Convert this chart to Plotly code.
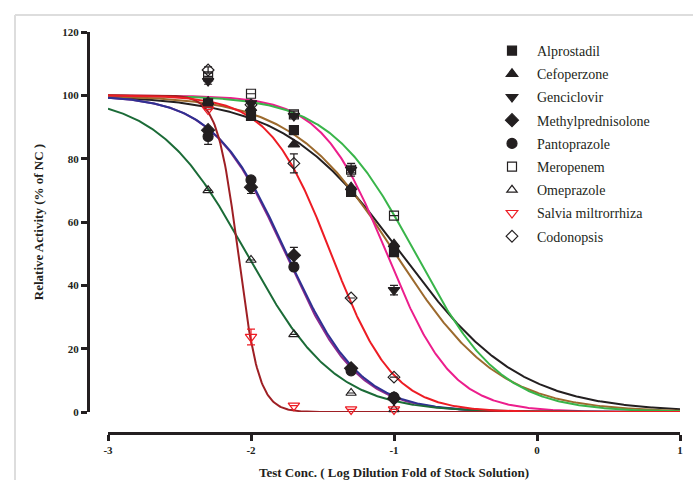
import numpy as np
import plotly.graph_objects as go

# ---------------- data ----------------
log_conc = [-2.3, -2.0, -1.7, -1.3, -1.0]

names = ["Alprostadil", "Cefoperzone", "Genciclovir", "Methylprednisolone",
         "Pantoprazole", "Meropenem", "Omeprazole", "Salvia miltrorrhiza", "Codonopsis"]

alprostadil = [97.5, 93.5, 89.0, 69.5, 50.5]
cefoperzone = [98.0, 96.0, 84.5, 71.0, 53.0]
genciclovir = [104.5, 97.5, 93.5, 76.5, 38.5]
methylpred = [89.0, 71.0, 49.5, 13.8, 4.3]
pantoprazole = [87.0, 73.3, 45.8, 13.0, 4.7]
meropenem = [106.0, 100.5, 94.0, 76.5, 62.0]
omeprazole = [70.0, 48.0, 24.5, 6.0, 0.8]
salvia = [95.5, 23.7, 2.0, 0.8, 0.8]
codonopsis = [108.0, 97.0, 78.5, 36.0, 11.0]

# error bars (SEM)
err_alprostadil = [0, 1.0, 1.0, 1.0, 1.0]
err_cefoperzone = [0, 0, 0, 0, 0]
err_genciclovir = [1.0, 0, 0, 1.0, 1.5]
err_methylpred = [0, 2.0, 2.5, 0, 0]
err_pantoprazole = [2.5, 0, 0, 0, 0]
err_meropenem = [0, 0, 1.0, 2.0, 0]
err_omeprazole = [0, 0, 0, 0, 0]
err_salvia = [0, 2.5, 0, 0, 0]
err_codonopsis = [1.0, 0, 3.0, 0, 0]

# fitted curve parameters (logIC50, Hill slope)
log_ic50 = [-0.95, -0.99, -1.05, -1.75, -1.76, -0.85, -2.03, -2.09, -1.44]
hill = [1.05, 1.2, 1.9, 1.7, 1.72, 1.45, 1.4, 6.0, 2.0]
top_val = 100.0
bottom_val = 0.0

line_colors = ["#231f20", "#9c6a2e", "#ec1e8c", "#2e3192", "#8e2a8e",
               "#39b54a", "#1b6b37", "#9e1f24", "#ed1c24"]
symbols = ["square", "triangle-up", "triangle-down", "diamond", "circle",
           "square-open", "triangle-up-open", "triangle-down-open", "diamond-open"]
marker_colors = ["#231f20"] * 7 + ["#ed1c24", "#231f20"]
marker_sizes = [9, 10, 10, 10, 10, 9, 9, 10, 9]

values = [alprostadil, cefoperzone, genciclovir, methylpred, pantoprazole,
          meropenem, omeprazole, salvia, codonopsis]
errors = [err_alprostadil, err_cefoperzone, err_genciclovir, err_methylpred,
          err_pantoprazole, err_meropenem, err_omeprazole, err_salvia, err_codonopsis]

# ---------------- figure ----------------
W, H = 693, 480
ML, MR, MT, MB = 88, 13, 32, 47
PW, PH = W - ML - MR, H - MT - MB

fig = go.Figure()

xs = np.linspace(-3, 1, 500)
line_order = [0, 1, 2, 4, 3, 5, 6, 7, 8]
for i in line_order:
    ys = bottom_val + (top_val - bottom_val) / (1 + 10 ** ((xs - log_ic50[i]) * hill[i]))
    fig.add_trace(go.Scatter(x=xs, y=ys, mode="lines",
                             line=dict(color=line_colors[i], width=2),
                             showlegend=False, hoverinfo="skip", cliponaxis=False))

for i, n in enumerate(names):
    fig.add_trace(go.Scatter(
        x=log_conc, y=values[i], mode="markers", name=n,
        legendgroup=n,
        marker=dict(symbol=symbols[i], size=marker_sizes[i], color=marker_colors[i],
                    line=dict(color=marker_colors[i], width=1.2)),
        error_y=dict(type="data", array=errors[i], visible=True,
                     color=marker_colors[i], thickness=1.2, width=4),
        cliponaxis=False))

fig.update_layout(
    width=W, height=H,
    margin=dict(l=ML, r=MR, t=MT, b=MB, autoexpand=False),
    paper_bgcolor="white", plot_bgcolor="white",
    xaxis=dict(domain=[20 / PW, 1], range=[-3, 1], anchor="free", position=0,
               automargin=False,
               tickvals=[-3, -2, -1, 0, 1], ticktext=["-3", "-2", "-1", "0", "1"],
               showline=True, linewidth=3, linecolor="#231f20",
               ticks="outside", ticklen=6, tickwidth=2.5, tickcolor="#231f20",
               showgrid=False, zeroline=False,
               tickfont=dict(family="Liberation Serif", size=11, color="#231f20", weight="bold"),
               title=dict(text="Test Conc. ( Log Dilution Fold of Stock Solution)",
                          font=dict(family="Liberation Serif", size=13, color="#231f20", weight="bold"),
                          standoff=14)),
    yaxis=dict(domain=[21 / PH, 1], range=[0, 120], anchor="free", position=0,
               automargin=False,
               tickvals=[0, 20, 40, 60, 80, 100, 120],
               showline=True, linewidth=3, linecolor="#231f20",
               ticks="outside", ticklen=6, tickwidth=2.5, tickcolor="#231f20",
               showgrid=False, zeroline=False,
               tickfont=dict(family="Liberation Serif", size=11, color="#231f20", weight="bold"),
               title=dict(text="Relative Activity (% of NC )",
                          font=dict(family="Liberation Serif", size=13, color="#231f20", weight="bold"),
                          standoff=14)),
    legend=dict(x=(487 - ML) / PW, y=(433 - 35) / PH, xanchor="left", yanchor="top",
                font=dict(family="Liberation Serif", size=14, color="#231f20"),
                bgcolor="rgba(0,0,0,0)", tracegroupgap=2, itemwidth=40),
    shapes=[
        dict(type="line", xref="paper", yref="paper",
             x0=(15 - ML) / PW, x1=(15 - ML) / PW, y0=(433 - 15) / PH, y1=-MB / PH,
             line=dict(color="#dddddd", width=2)),
        dict(type="line", xref="paper", yref="paper",
             x0=(15 - ML) / PW, x1=(W - ML) / PW, y0=(433 - 15) / PH, y1=(433 - 15) / PH,
             line=dict(color="#dddddd", width=2)),
    ],
)

fig.write_html("out.html")
